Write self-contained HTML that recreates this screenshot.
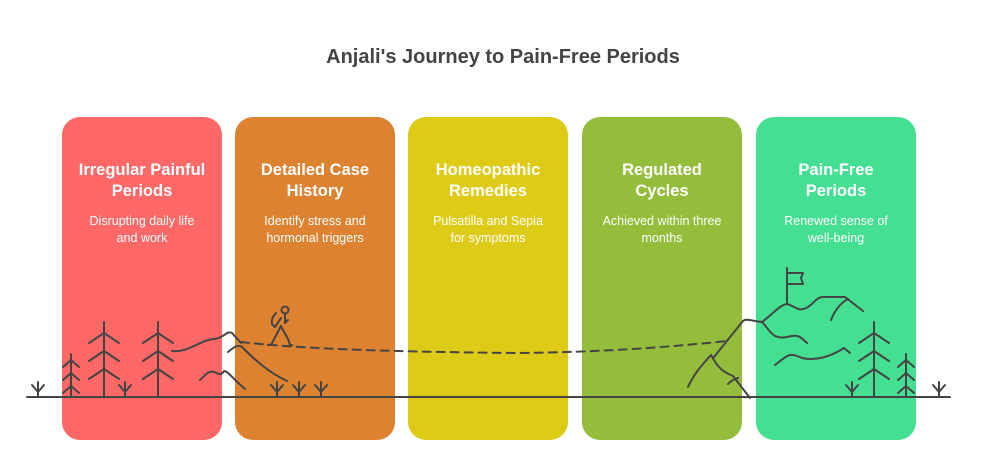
<!DOCTYPE html>
<html><head><meta charset="utf-8"><style>
body{margin:0;width:1006px;height:466px;background:#fff;position:relative;overflow:hidden;font-family:"Liberation Sans",sans-serif}
.t{position:absolute;top:46px;left:0;width:1006px;text-align:center;font-weight:bold;font-size:20px;color:#444}
.c{position:absolute;top:117px;width:160px;height:323px;border-radius:18px}
.h{position:absolute;top:43px;left:0;width:160px;text-align:center;color:#fff;font-weight:bold;font-size:16.5px;line-height:21px}
.d{position:absolute;top:96px;left:0;width:160px;text-align:center;color:#fff;font-size:12.5px;line-height:17px}
svg{position:absolute;left:0;top:0}
</style></head><body>
<div class="t">Anjali's Journey to Pain-Free Periods</div>
<div class="c" style="left:62px;background:#fe6867"><div class="h">Irregular Painful<br>Periods</div><div class="d">Disrupting daily life<br>and work</div></div>
<div class="c" style="left:235px;background:#dd8230"><div class="h">Detailed Case<br>History</div><div class="d">Identify stress and<br>hormonal triggers</div></div>
<div class="c" style="left:408px;background:#ddcb17"><div class="h">Homeopathic<br>Remedies</div><div class="d">Pulsatilla and Sepia<br>for symptoms</div></div>
<div class="c" style="left:582px;background:#93bd3b"><div class="h">Regulated<br>Cycles</div><div class="d">Achieved within three<br>months</div></div>
<div class="c" style="left:756px;background:#45df94"><div class="h">Pain-Free<br>Periods</div><div class="d">Renewed sense of<br>well-being</div></div>
<svg width="1006" height="466" fill="none" stroke="#444" stroke-width="2" stroke-linecap="round" stroke-linejoin="round">
<line x1="27" y1="397" x2="950" y2="397"/>
<g id="sp"><path d="M38 382V397M32 385L38 392L44 385"/></g>
<use href="#sp" x="87"/><use href="#sp" x="239"/><use href="#sp" x="261"/><use href="#sp" x="283"/><use href="#sp" x="814"/><use href="#sp" x="901"/>
<g id="tt"><path d="M104 322V397M89 343L104 333L119 343M89 361L104 351L119 361M89 379L104 369L119 379"/></g>
<use href="#tt" x="54"/><use href="#tt" x="770"/>
<g id="st"><path d="M71 354V397M63 367L71 360L79 367M63 380L71 373L79 380M63 393L71 386L79 393"/></g>
<use href="#st" x="835"/>
<path d="M172 351C188 353 200 340 214 339C225 338 226 330 232 333L241 343"/>
<path d="M228 352C234 347 238 344 242 347C255 360 268 372 287 381"/>
<path d="M200 380C205 376 208 370 214 372C219 374 221 376 224 371C228 371 232 378 245 389"/>
<path d="M241 342C300 349 400 352 520 353C600 352 660 348 727 341" stroke-dasharray="8 6"/>
<circle cx="285" cy="310" r="3.5"/>
<path d="M285 314V323L288 320M281 326L271 345L268 345M281 326C282 330 288 336 290 345L292 345M276 313C273 316 271 320 272 324L275 327L281 318"/>
<path d="M688 387C694 374 700 367 711 355C716 364 720 371 733 376L750 398M728 384C732 380 735 379 738 378"/>
<path d="M714 357L743 321C746 318 752 321 762 322C775 312 780 305 787 304C795 306 798 312 806 308C813 305 816 297 823 297H845L863 311M831 320C834 312 840 303 848 299"/>
<path d="M787 304V268M787 273H803L801 278L803 284H787"/>
<path d="M762 322C770 330 772 340 787 337C797 334 800 336 807 343"/>
<path d="M775 365C790 353 790 353 802 358C815 361 830 357 844 348L850 353"/>
</svg>
</body></html>
